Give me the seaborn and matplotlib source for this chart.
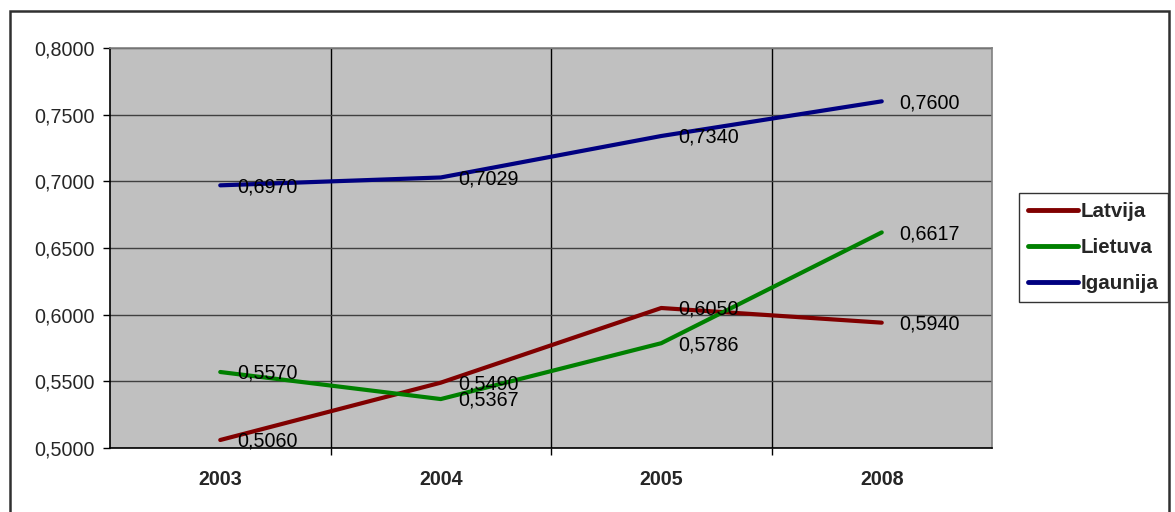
import matplotlib
matplotlib.use("Agg")
import matplotlib.pyplot as plt
import seaborn as sns
import pandas as pd
from matplotlib.patches import Rectangle
from matplotlib.ticker import FixedLocator, FuncFormatter

years = ["2003", "2004", "2005", "2008"]
latvija = [0.5060, 0.5490, 0.6050, 0.5940]
lietuva = [0.5570, 0.5367, 0.5786, 0.6617]
igaunija = [0.6970, 0.7029, 0.7340, 0.7600]
series_names = ["Latvija", "Lietuva", "Igaunija"]
colors = ["#800000", "#008000", "#000080"]
y_ticks = [0.50, 0.55, 0.60, 0.65, 0.70, 0.75, 0.80]

sns.set_theme(style="white")
plt.rcParams["font.family"] = ["Liberation Sans", "DejaVu Sans"]

df = pd.DataFrame({
    "year": years * 3,
    "value": latvija + lietuva + igaunija,
    "series": [s for s in series_names for _ in years],
})

fig = plt.figure(figsize=(11.75, 5.12), dpi=100)
ax = fig.add_axes([110 / 1175, 1 - 448 / 512, (992 - 110) / 1175, (448 - 48) / 512])
ax.set_facecolor("#C0C0C0")

sns.lineplot(data=df, x="year", y="value", hue="series", palette=colors,
             hue_order=series_names, linewidth=3.0, ax=ax, legend=True, sort=False)

for vals, name in zip([latvija, lietuva, igaunija], series_names):
    for i, v in enumerate(vals):
        ax.annotate(f"{v:.4f}".replace(".", ","), xy=(i, v), xytext=(12.5, -1),
                    textcoords="offset points", ha="left", va="center",
                    fontsize=14.2, color="black")

ax.set_xlim(-0.5, 3.5)
ax.set_ylim(0.5, 0.8)
ax.set_xlabel("")
ax.set_ylabel("")

ax.yaxis.set_major_locator(FixedLocator(y_ticks))
ax.yaxis.set_major_formatter(FuncFormatter(lambda v, p: f"{v:.4f}".replace(".", ",")))
ax.tick_params(axis="y", which="major", direction="out", length=5, width=1,
               color="black", labelsize=14.2, pad=6, left=True)

ax.set_xticks(range(len(years)))
ax.set_xticklabels(years, fontsize=14.2, fontweight="bold")
ax.xaxis.set_minor_locator(FixedLocator([0.5, 1.5, 2.5]))
ax.tick_params(axis="x", which="major", length=0, pad=16)
ax.tick_params(axis="x", which="minor", direction="out", length=5, width=1,
               color="black", bottom=True)

ax.grid(False)
ax.yaxis.grid(True, which="major", color="#404040", linewidth=1)
ax.xaxis.grid(True, which="minor", color="black", linewidth=1)

for side in ["top", "right"]:
    ax.spines[side].set_color("#808080")
    ax.spines[side].set_linewidth(1.2)
for side in ["left", "bottom"]:
    ax.spines[side].set_color("black")
    ax.spines[side].set_linewidth(1.2)

handles, labels = ax.get_legend_handles_labels()
leg = ax.legend(handles, labels, loc="upper left",
                bbox_to_anchor=(1019 / 1175, 1 - 193 / 512),
                bbox_transform=fig.transFigure,
                frameon=True, fancybox=False, edgecolor="black",
                prop={"size": 14.8, "weight": "bold"},
                handlelength=2.4, handletextpad=0.15, labelspacing=0.82,
                borderpad=0.45, borderaxespad=0)
leg.get_frame().set_linewidth(1.0)
for line in leg.get_lines():
    line.set_linewidth(3.5)

fig.patches.append(Rectangle((10 / 1175, -0.05), (1169 - 10) / 1175, 1 - 11 / 512 + 0.05,
                             transform=fig.transFigure, fill=False,
                             edgecolor="#303030", linewidth=1.8, zorder=0))

fig.savefig("out.png", dpi=100, facecolor="white")
